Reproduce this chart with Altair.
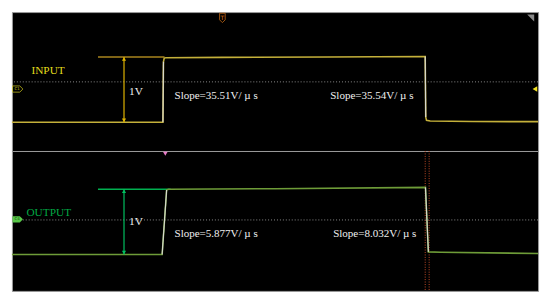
import altair as alt
import pandas as pd

# ---- data (time in µs, level in V) ----
x_ticks = [-6, -4, -2, 0, 2, 4, 6, 8, 10]

in_t = [-8.0, -2.26, -2.24, -2.21, -2.15, 0.0, 4.0, 7.71, 7.73, 7.76, 7.90, 9.5, 12.0]
in_v = [0.0, 0.0, 0.93, 0.985, 0.99, 0.995, 1.0, 1.01, 0.08, 0.03, 0.02, 0.012, 0.01]

out_t = [-8.0, -2.29, -2.12, -2.05, 2.0, 7.72, 7.83, 8.3, 12.0]
out_v = [0.0, 0.0, 0.99, 1.0, 1.01, 1.03, 0.04, 0.035, 0.015]

# transition segments (drawn paler on the scope)
edge_seg = ["in_r", "in_r", "in_f", "in_f"]
edge_t = [-2.26, -2.24, 7.71, 7.73]
edge_v = [0.0, 0.93, 1.01, 0.08]
oedge_seg = ["out_r", "out_r", "out_f", "out_f"]
oedge_t = [-2.29, -2.12, 7.72, 7.83]
oedge_v = [0.0, 0.99, 1.03, 0.04]

# amplitude cursor (horizontal reference at the high level)
cur_t0 = -4.73
cur_t1_in = -2.2
cur_t1_out = -1.97
amp_t = -3.74          # position of the 1V double arrow
amp_lo, amp_hi = 0.0, 1.0

center_in = 0.62
center_out = 0.53

slope_in = ["Slope=35.51V/ µ s", "Slope=35.54V/ µ s"]
slope_out = ["Slope=5.877V/ µ s", "Slope=8.032V/ µ s"]
slope_t_in = [-1.82, 4.10]
slope_t_out = [-1.82, 4.21]
slope_v_in = 0.40
slope_v_out = 0.32

cursor_out_t = [7.71, 7.86]

W = 534
H1, H2 = 141, 142
xscale = alt.Scale(domain=[-8, 12], nice=False)
y1 = alt.Scale(domain=[-0.44, 1.69], nice=False, zero=False)
y2 = alt.Scale(domain=[-0.559, 1.588], nice=False, zero=False)

SERIF = "Liberation Serif"


def xaxis(labels):
    return alt.Axis(
        values=x_ticks, grid=True, domain=False, ticks=False, title=None,
        gridDash=[1, 2], gridWidth=1,
        gridColor={"condition": {"test": "datum.value === 0", "value": "#8a8a8a"}, "value": "#3e3e3e"},
        labels=labels, labelFontSize=5, labelColor="#9a9a9a", labelPadding=-9,
        labelFont="DejaVu Sans",
        labelExpr="datum.value === 0 ? '0s' : datum.value + ' µs'",
    )


def panel(ys, tt, vv, etd, trace_color, cur_color, arrow_color, label, label_t, label_v, label_color,
          one_v_v, slopes, slope_t, slope_v, center, cur_t1, labels, height):
    tr = pd.DataFrame({"t": tt, "v": vv})
    ed = pd.DataFrame(etd)
    grid = alt.Chart(pd.DataFrame({"t": x_ticks})).mark_point(opacity=0).encode(
        x=alt.X("t:Q", scale=xscale, axis=xaxis(labels)),
        y=alt.Y("c:Q", scale=ys, axis=None),
    ).transform_calculate(c=str(center))
    cline = alt.Chart(pd.DataFrame({"v": [center]})).mark_rule(
        color="#8c8c8c", strokeDash=[1, 2], strokeWidth=1
    ).encode(y=alt.Y("v:Q", scale=ys, axis=None))
    cur = alt.Chart(pd.DataFrame({"t0": [cur_t0], "t1": [cur_t1], "v": [amp_hi]})).mark_rule(
        color=cur_color, strokeWidth=1.6
    ).encode(x=alt.X("t0:Q", scale=xscale, axis=None), x2="t1", y=alt.Y("v:Q", scale=ys, axis=None))
    trace = alt.Chart(tr).mark_line(color=trace_color, strokeWidth=1.6).encode(
        x=alt.X("t:Q", scale=xscale, axis=None), y=alt.Y("v:Q", scale=ys, axis=None), order="t:Q"
    )
    edges = alt.Chart(ed).mark_line(color="#d8d8d0", strokeWidth=1.2).encode(
        x=alt.X("t:Q", scale=xscale, axis=None), y=alt.Y("v:Q", scale=ys, axis=None), detail="s:N"
    )
    arr = alt.Chart(pd.DataFrame({"t": [amp_t], "a": [amp_lo], "b": [amp_hi]})).mark_rule(
        color=arrow_color, strokeWidth=1.2
    ).encode(x=alt.X("t:Q", scale=xscale, axis=None), y=alt.Y("a:Q", scale=ys, axis=None), y2="b")
    heads = alt.Chart(pd.DataFrame({"t": [amp_t, amp_t], "v": [amp_hi - 0.03, amp_lo + 0.03],
                                    "s": ["triangle-up", "triangle-down"]})).mark_point(
        filled=True, color=arrow_color, size=18, opacity=1
    ).encode(x=alt.X("t:Q", scale=xscale, axis=None), y=alt.Y("v:Q", scale=ys, axis=None),
             shape=alt.Shape("s:N", scale=None))
    lab = alt.Chart(pd.DataFrame({"t": [label_t], "v": [label_v], "s": [label]})).mark_text(
        align="left", baseline="middle", font=SERIF, fontSize=11.5, color=label_color
    ).encode(x=alt.X("t:Q", scale=xscale, axis=None), y=alt.Y("v:Q", scale=ys, axis=None), text="s:N")
    onev = alt.Chart(pd.DataFrame({"t": [-3.55], "v": [one_v_v], "s": ["1V"]})).mark_text(
        align="left", baseline="middle", font=SERIF, fontSize=11.5, color="#f0f0f0"
    ).encode(x=alt.X("t:Q", scale=xscale, axis=None), y=alt.Y("v:Q", scale=ys, axis=None), text="s:N")
    sl = alt.Chart(pd.DataFrame({"t": slope_t, "v": [slope_v] * 2, "s": slopes})).mark_text(
        align="left", baseline="middle", font=SERIF, fontSize=11.2, color="#f0f0f0"
    ).encode(x=alt.X("t:Q", scale=xscale, axis=None), y=alt.Y("v:Q", scale=ys, axis=None), text="s:N")
    return [grid, cline, cur, trace, edges, arr, heads, lab, onev, sl]


top_layers = panel(
    y1, in_t, in_v, {"s": edge_seg, "t": edge_t, "v": edge_v},
    "#c4b03a", "#a8841e", "#e0b400", "INPUT", -7.26, 0.78, "#e2dc1c",
    0.46, slope_in, slope_t_in, slope_v_in, center_in, cur_t1_in, False, H1,
)
# markers top panel
ch1 = alt.Chart(pd.DataFrame({"t": [-7.78], "v": [0.51]})).mark_point(
    shape="M-1,-0.6L0.4,-0.6L1,0L0.4,0.6L-1,0.6Z", filled=False, color="#d8d020", size=110, strokeWidth=1
).encode(x=alt.X("t:Q", scale=xscale, axis=None), y=alt.Y("v:Q", scale=y1, axis=None))
ch1t = alt.Chart(pd.DataFrame({"t": [-7.8], "v": [0.51], "s": ["C1"]})).mark_text(
    fontSize=4, color="#d8d020", font="DejaVu Sans"
).encode(x=alt.X("t:Q", scale=xscale, axis=None), y=alt.Y("v:Q", scale=y1, axis=None), text="s:N")
rmark = alt.Chart(pd.DataFrame({"t": [11.88], "v": [0.51]})).mark_point(
    shape="triangle-left", filled=True, color="#f0e020", size=30, opacity=1
).encode(x=alt.X("t:Q", scale=xscale, axis=None), y=alt.Y("v:Q", scale=y1, axis=None))
trig = alt.Chart(pd.DataFrame({"t": [0.0], "v": [1.6]})).mark_point(
    shape="M-0.6,-1L0.6,-1L0.6,0.4L0,1L-0.6,0.4Z", filled=False, color="#e07818", size=90, strokeWidth=1
).encode(x=alt.X("t:Q", scale=xscale, axis=None), y=alt.Y("v:Q", scale=y1, axis=None))
trigt = alt.Chart(pd.DataFrame({"t": [0.0], "v": [1.6], "s": ["T"]})).mark_text(
    fontSize=6, color="#e07818", font="DejaVu Sans"
).encode(x=alt.X("t:Q", scale=xscale, axis=None), y=alt.Y("v:Q", scale=y1, axis=None), text="s:N")
corner = alt.Chart(pd.DataFrame({"t": [11.72], "v": [1.6]})).mark_point(
    shape="M1,-1L1,1L-1,-1Z", filled=True, color="#8a8a8a", size=50, opacity=1
).encode(x=alt.X("t:Q", scale=xscale, axis=None), y=alt.Y("v:Q", scale=y1, axis=None))

top = alt.layer(*top_layers, ch1, ch1t, rmark, trig, trigt, corner).properties(width=W, height=H1)

bot_layers = panel(
    y2, out_t, out_v, {"s": oedge_seg, "t": oedge_t, "v": oedge_v},
    "#6e9c38", "#00b050", "#00c060", "OUTPUT", -7.45, 0.63, "#00a844",
    0.50, slope_out, slope_t_out, slope_v_out, center_out, cur_t1_out, True, H2,
)
curs = alt.Chart(pd.DataFrame({"t": cursor_out_t})).mark_rule(
    color="#c04a28", strokeDash=[1, 1.5], strokeWidth=1
).encode(x=alt.X("t:Q", scale=xscale, axis=None))
ch4 = alt.Chart(pd.DataFrame({"t": [-7.78], "v": [0.54]})).mark_point(
    shape="M-1,-0.6L0.4,-0.6L1,0L0.4,0.6L-1,0.6Z", filled=True, color="#58c848", size=110, opacity=1
).encode(x=alt.X("t:Q", scale=xscale, axis=None), y=alt.Y("v:Q", scale=y2, axis=None))
ch4t = alt.Chart(pd.DataFrame({"t": [-7.8], "v": [0.54], "s": ["C4"]})).mark_text(
    fontSize=4, color="#104010", font="DejaVu Sans"
).encode(x=alt.X("t:Q", scale=xscale, axis=None), y=alt.Y("v:Q", scale=y2, axis=None), text="s:N")
pink = alt.Chart(pd.DataFrame({"t": [-2.17], "v": [1.545]})).mark_point(
    shape="triangle-down", filled=True, color="#e87cc8", size=22, opacity=1
).encode(x=alt.X("t:Q", scale=xscale, axis=None), y=alt.Y("v:Q", scale=y2, axis=None))

bottom = alt.layer(curs, *bot_layers, ch4, ch4t, pink).properties(width=W, height=H2)

chart = alt.vconcat(top, bottom, spacing=0, bounds="flush").properties(
    padding=0, background="white"
).configure_view(fill="black", stroke="#9a9a9a", strokeWidth=1)

chart.save("out.html", embed_options={"renderer": "svg", "actions": False})
